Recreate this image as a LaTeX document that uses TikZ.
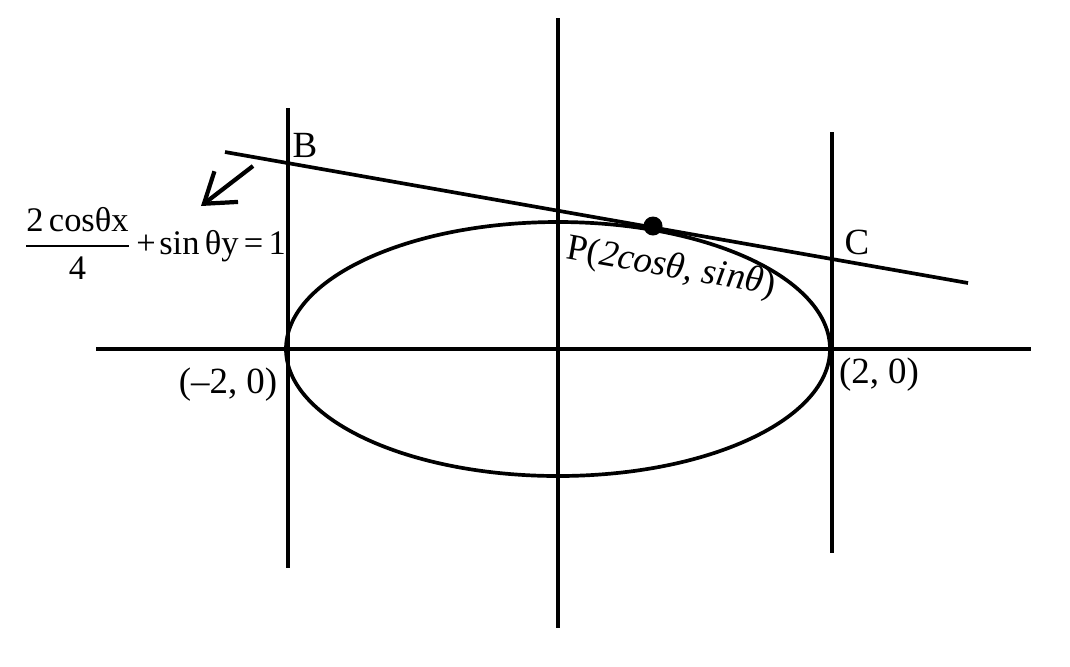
\documentclass[tikz,border=0pt]{standalone}
\usepackage{amsmath}
\usepackage{fontspec}
\setmainfont{Liberation Serif}
\usetikzlibrary{arrows.meta}
\begin{document}
\begin{tikzpicture}[x=0.01cm,y=-0.01cm,
  ln/.style={line width=1.05pt},
  lbl/.style={inner sep=0pt,font=\fontsize{10.5}{12}\selectfont}]
\useasboundingbox (0,0) rectangle (1070,666);
% axes
\coordinate (xl) at (96,349); \coordinate (xr) at (1031,349);
\coordinate (yt) at (558,18); \coordinate (yb) at (558,628);
\draw[ln] (xl) -- (xr);
\draw[ln] (yt) -- (yb);
% ellipse
\coordinate (O) at (558,349);
\draw[ln] (O) ellipse [x radius=272, y radius=127];
% vertical tangents
\coordinate (bt) at (288,108); \coordinate (bb) at (288,568);
\coordinate (ct) at (832,132); \coordinate (cb) at (832,553);
\draw[ln] (bt) -- (bb);
\draw[ln] (ct) -- (cb);
% tangent line
\coordinate (tl) at (225,152); \coordinate (tr) at (968,283);
\draw[ln] (tl) -- (tr);
% point P
\fill (653,226) circle [radius=9.5];
\node[lbl,rotate=-10] (P) at (671,268) {P(\textit{2cosθ, sinθ})};
\node[lbl] (B) at (305,145) {B};
\node[lbl] (C) at (857,242) {C};
\node[lbl] (m2) at (228,385) {(–2, 0)};
\node[lbl] (p2) at (879,375) {(2, 0)};
% formula
\node[lbl,font=\fontsize{9.8}{12}\selectfont] (eq) at (154,243) {$\dfrac{\hbox{2\hspace{1.5pt}cosθx}}{\hbox{4}}$\hspace{1pt}+\hspace{1pt}sin\hspace{1.5pt}θy\hspace{1.5pt}=\hspace{1.5pt}1};
% arrow
\coordinate (a1) at (253,166); \coordinate (a2) at (201,206);
\draw[line width=1.2pt,-{Straight Barb[length=8pt,width=11pt,line width=1.2pt]}] (a1) -- (a2);
\end{tikzpicture}
\end{document}
